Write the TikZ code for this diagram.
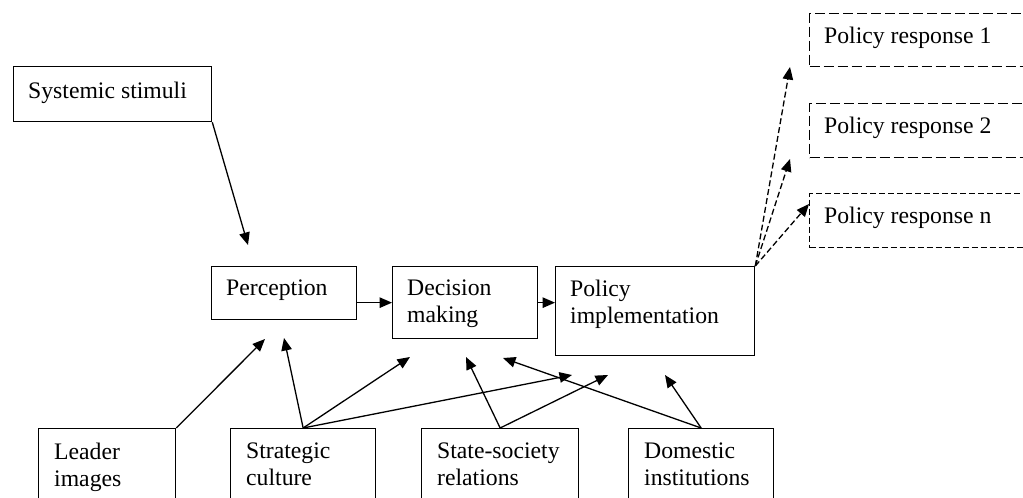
\documentclass[tikz,border=0pt]{standalone}
\usepackage{fontspec}
\setmainfont{Liberation Serif}
\usetikzlibrary{arrows.meta}
\begin{document}
\begin{tikzpicture}[x=1pt,y=-1pt,
  box/.style={draw, line width=1.3pt, rectangle, inner sep=0pt, anchor=north west},
  dbox/.style={box, dash pattern=on 10pt off 4pt},
  dboxn/.style={box, line width=1.1pt, dash pattern=on 6pt off 3pt},
  txt/.style={anchor=north west, inner sep=0pt, align=left, font=\fontsize{23.7}{27}\selectfont},
  arr/.style={line width=1.3pt, -{Triangle[length=12.5pt,width=10.5pt]}},
  darr/.style={arr, dash pattern=on 6pt off 3pt}]
\clip (0,0) rectangle (1023,498);
\fill[white] (0,0) rectangle (1023,498);
% boxes
\node[box, minimum width=198pt, minimum height=55pt] (sys) at (13,66) {};
\node[box, minimum width=145pt, minimum height=53pt] (perc) at (211,266) {};
\node[box, minimum width=145pt, minimum height=72pt] (dec) at (392,266) {};
\node[box, minimum width=199pt, minimum height=89pt] (pol) at (555,266) {};
\node[dbox, minimum width=240pt, minimum height=53pt] (r1) at (809,13) {};
\node[dbox, minimum width=240pt, minimum height=54pt] (r2) at (809,103) {};
\node[dboxn, minimum width=240pt, minimum height=54pt] (rn) at (809,193) {};
\node[box, minimum width=137pt, minimum height=90pt] (lead) at (38,428) {};
\node[box, minimum width=145pt, minimum height=90pt] (strat) at (230,428) {};
\node[box, minimum width=157pt, minimum height=90pt] (state) at (421,428) {};
\node[box, minimum width=145pt, minimum height=90pt] (dom) at (628,428) {};
% texts
\node[txt] (sysT) at ([shift={(15,16)}]sys.north west) {Systemic stimuli};
\node[txt] (percT) at ([shift={(15,14)}]perc.north west) {Perception};
\node[txt] (decT) at ([shift={(15,14)}]dec.north west) {Decision\\making};
\node[txt] (polT) at ([shift={(15,14)}]pol.north west) {Policy\\implementation};
\node[txt] (r1T) at ([shift={(15,14)}]r1.north west) {Policy response 1};
\node[txt] (r2T) at ([shift={(15,14)}]r2.north west) {Policy response 2};
\node[txt] (rnT) at ([shift={(15,14)}]rn.north west) {Policy response n};
\node[txt] (leadT) at ([shift={(16,15)}]lead.north west) {Leader\\images};
\node[txt] (stratT) at ([shift={(16,15)}]strat.north west) {Strategic\\culture};
\node[txt] (stateT) at ([shift={(16,15)}]state.north west) {State-society\\relations};
\node[txt] (domT) at ([shift={(16,15)}]dom.north west) {Domestic\\institutions};
% free arrow ends
\coordinate (tSys) at (248,245);
\coordinate (tLP) at (265,339);
\coordinate (tSP) at (284,338);
\coordinate (tSD) at (410,357);
\coordinate (tSPol) at (572,375);
\coordinate (tStD) at (466,357);
\coordinate (tStPol) at (608,375);
\coordinate (tDD) at (503,358);
\coordinate (tDPol) at (665,375);
\coordinate (tR1) at (790,67);
\coordinate (tR2) at (790,159);
\coordinate (tRn) at (809,204);
% connectors
\draw[arr] (sys.south east) -- (tSys);
\draw[arr] (dec.west -| perc.east) -- (dec.west);
\draw[arr] (dec.east) -- (dec.east -| pol.west);
\draw[arr] (lead.north east) -- (tLP);
\draw[arr] (strat.north) -- (tSP);
\draw[arr] (strat.north) -- (tSD);
\draw[arr] (strat.north) -- (tSPol);
\draw[arr] (state.north) -- (tStD);
\draw[arr] (state.north) -- (tStPol);
\draw[arr] (dom.north) -- (tDD);
\draw[arr] (dom.north) -- (tDPol);
\draw[darr] (pol.north east) -- (tR1);
\draw[darr] (pol.north east) -- (tR2);
\draw[darr] (pol.north east) -- (tRn);
\end{tikzpicture}
\end{document}
